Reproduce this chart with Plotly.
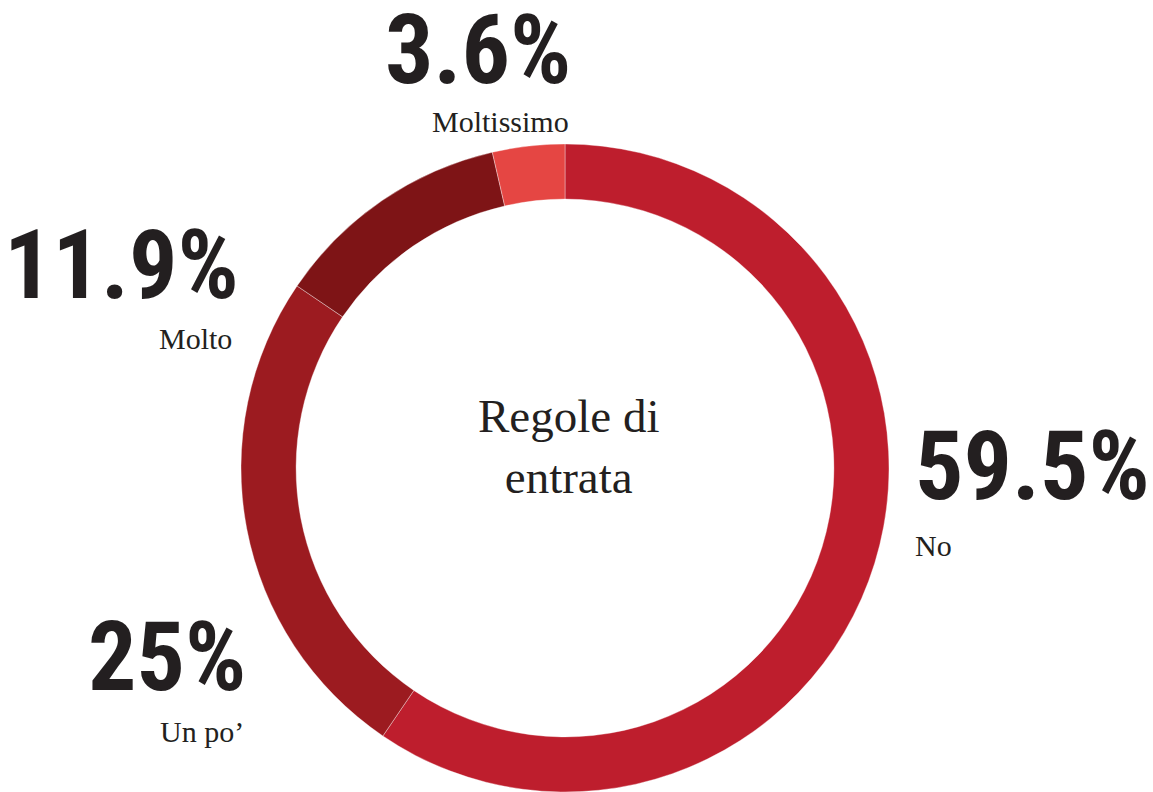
import plotly.graph_objects as go

# Survey answers for "Regole di entrata"
categories = ["No", "Un po\u2019", "Molto", "Moltissimo"]
shares = [59.5, 25, 11.9, 3.6]
slice_colors = ["#BE1E2D", "#9C1B20", "#7E1416", "#E54643"]

W, H = 1153, 792
TEXT = "#231F20"
BIG_FONT = "Roboto Condensed, Open Sans Condensed, Liberation Sans Narrow, sans-serif"
SERIF = "Liberation Serif, Times New Roman, serif"

# Donut geometry in pixels (centre and outer radius)
cx, cy, r = 565, 468, 324

fig = go.Figure(
    go.Pie(
        labels=categories,
        values=shares,
        sort=False,
        direction="clockwise",
        rotation=0,
        hole=0.83,
        marker=dict(colors=slice_colors, line=dict(color="rgba(255,255,255,0.6)", width=0.6)),
        textinfo="none",
        hoverinfo="label+percent",
        showlegend=False,
        domain=dict(x=[(cx - r) / W, (cx + r) / W], y=[0, (H - cy + r) / H]),
    )
)

# Label placement per category: (anchor x, value centre y, name centre y, xanchor)
label_pos = {
    "No": (913, 466, 545, "left"),
    "Un po\u2019": (248, 657, 731, "right"),
    "Molto": (241, 265, 339, "right"),
    "Moltissimo": (478, 50, 122, "center"),
}
name_x_offset = {"No": 0, "Un po\u2019": -2, "Molto": -7, "Moltissimo": 22}


def px(x, y):
    return x / W, 1 - y / H


annotations = []
for cat, val in zip(categories, shares):
    x, yv, yn, anchor = label_pos[cat]
    ax, ay = px(x, yv)
    annotations.append(dict(
        x=ax, y=ay, xref="paper", yref="paper", xanchor=anchor, yanchor="middle",
        text=f"{val:g}%", showarrow=False, height=78, valign="middle",
        font=dict(family=BIG_FONT, size=96, color=TEXT, weight="bold"),
    ))
    nx, ny = px(x + name_x_offset[cat], yn)
    annotations.append(dict(
        x=nx, y=ny, xref="paper", yref="paper", xanchor=anchor, yanchor="middle",
        text=cat, showarrow=False,
        font=dict(family=SERIF, size=30, color=TEXT),
    ))

# Centre title
tx, ty = px(568, 446)
annotations.append(dict(
    x=tx, y=ty, xref="paper", yref="paper", xanchor="center", yanchor="middle",
    text="Regole di<br>entrata", showarrow=False, align="center",
    font=dict(family=SERIF, size=47, color=TEXT),
))

fig.update_layout(
    width=W, height=H,
    margin=dict(l=0, r=0, t=0, b=0),
    paper_bgcolor="white", plot_bgcolor="white",
    annotations=annotations,
)

fig.write_html("out.html")
